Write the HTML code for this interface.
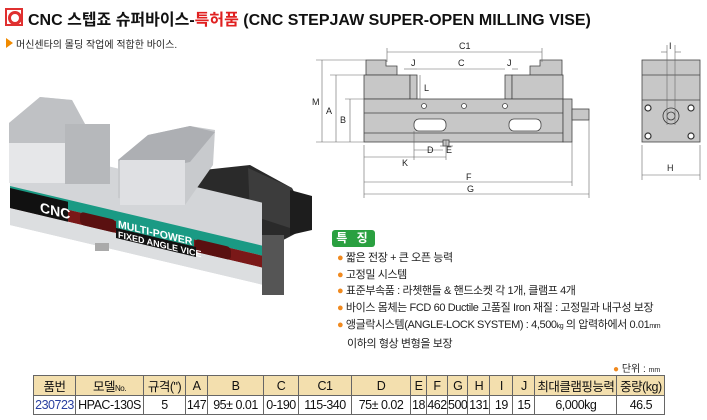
<!DOCTYPE html>
<html><head><meta charset="utf-8"><style>
body{margin:0;width:707px;height:420px;background:#fff;position:relative;overflow:hidden;font-family:"Liberation Sans","Noto Sans CJK KR",sans-serif;}
.a{position:absolute;white-space:nowrap}
table{position:absolute;left:33px;top:375px;border-collapse:collapse;font-family:"Liberation Sans","Noto Sans CJK KR",sans-serif;font-size:12.5px;table-layout:fixed}
td{border:1px solid #666;text-align:center;padding:0;height:18px;color:#111;overflow:hidden;white-space:nowrap;letter-spacing:-0.5px}
tr.h td{background:#f3dfae}
</style></head><body>
<div class="a" style="left:5px;top:8px;width:14px;height:14px;border:2px solid #e03030;"></div>
<div class="a" style="left:8px;top:11px;width:8px;height:8px;border:3px solid #e03030;border-radius:50%;"></div>
<div class="a" style="left:28px;top:6px;font-size:16px;font-weight:bold;color:#111">CNC 스텝죠 슈퍼바이스-<span style="color:#e02020">특허품</span> (CNC STEPJAW SUPER-OPEN MILLING VISE)</div>
<div class="a" style="left:6px;top:38px;width:0;height:0;border-top:5px solid transparent;border-bottom:5px solid transparent;border-left:7px solid #f08a00"></div>
<div class="a" style="left:16px;top:36px;font-size:10px;color:#222">머신센타의 몰딩 작업에 적합한 바이스.</div>

<svg class="a" style="left:0;top:0" width="707" height="420">
<!-- photo -->
<polygon points="185,172 250,165 292,188 312,225 268,248 185,218" fill="#2a2a2a"/>
<polygon points="248,168 292,188 290,228 250,215" fill="#3c3c3c"/>
<polygon points="290,190 312,196 312,230 290,235" fill="#1d1d1d"/>
<g transform="translate(10,0) skewY(13.3)">
<rect x="0" y="143" width="252" height="82" fill="#d3d5d8"/>
<rect x="0" y="186" width="252" height="10" fill="#1a9a84"/>
<rect x="0" y="196" width="252" height="12" fill="#7a1818"/>
<rect x="0" y="208" width="252" height="17" fill="#dcdee0"/>
<rect x="0" y="188" width="58" height="20" fill="#111"/>
<text x="30" y="205" font-size="14" font-weight="bold" fill="#fff" font-family="Liberation Sans">CNC</text>
<rect x="70" y="195" width="36" height="13" rx="4" fill="#5a1010"/>
<rect x="185" y="195" width="36" height="13" rx="4" fill="#5a1010"/>
<rect x="106" y="191" width="78" height="12" fill="#1a9a84"/>
<text x="108" y="202" font-size="10.5" font-weight="bold" fill="#fff" font-family="Liberation Sans">MULTI-POWER</text>
<rect x="106" y="203" width="80" height="10" fill="#111"/>
<text x="108" y="212" font-size="9" font-weight="bold" fill="#fff" font-family="Liberation Sans">FIXED ANGLE VICE</text>
</g>
<rect x="262" y="235" width="22" height="60" fill="#555"/>
<rect x="95" y="243" width="14" height="8" fill="#aaa"/>
<!-- left jaw -->
<polygon points="9,123 40,97 72,100 85,124 110,126 110,182 9,178" fill="#d5d7da"/>
<polygon points="9,123 40,97 72,100 85,124 65,146 9,143" fill="#bfc1c4"/>
<rect x="9" y="143" width="56" height="40" fill="#e6e7e9"/>
<rect x="65" y="124" width="45" height="60" fill="#b6b8bb"/>
<!-- movable jaw -->
<polygon points="118,160 148,135 190,126 215,130 213,165 185,205 118,198" fill="#c8cacd"/>
<polygon points="118,160 148,135 190,126 215,132 190,162 150,170" fill="#adafb3"/>
<rect x="120" y="160" width="65" height="45" fill="#dfe0e3"/>
<!-- drawing front view -->
<g fill="#c7c7c7" stroke="#444" stroke-width="0.8">
<polygon points="366,60 386,60 386,66 397,66 397,75 366,75"/>
<polygon points="530,66 540,66 540,60 562,60 562,75 530,75"/>
<rect x="364" y="75" width="46" height="24"/>
<rect x="410" y="75" width="7" height="24"/>
<rect x="505" y="75" width="7" height="24"/>
<rect x="512" y="75" width="51" height="24"/>
<rect x="364" y="99" width="199" height="43"/>
<rect x="563" y="99" width="9" height="43"/>
<rect x="572" y="109" width="17" height="11"/>
<rect x="443" y="140" width="6" height="6"/>
</g>
<g stroke="#444" stroke-width="0.8" fill="none">
<line x1="364" y1="113" x2="563" y2="113"/><line x1="364" y1="133" x2="563" y2="133"/>
</g>
<rect x="414" y="119" width="32" height="12" rx="5" fill="#fff" stroke="#444" stroke-width="0.8"/>
<rect x="509" y="119" width="32" height="12" rx="5" fill="#fff" stroke="#444" stroke-width="0.8"/>
<g fill="#fff" stroke="#444" stroke-width="0.8"><circle cx="424" cy="106" r="2.5"/><circle cx="464" cy="106" r="2.5"/><circle cx="505" cy="106" r="2.5"/></g>
<g stroke="#666" stroke-width="0.6" fill="none">
<line x1="387" y1="52" x2="542" y2="52"/><line x1="387" y1="48" x2="387" y2="62"/><line x1="542" y1="48" x2="542" y2="62"/>
<line x1="417" y1="69" x2="505" y2="69"/><line x1="410" y1="69" x2="417" y2="69"/>
<line x1="404" y1="69" x2="410" y2="69"/><line x1="512" y1="69" x2="518" y2="69"/>
<line x1="322" y1="60" x2="322" y2="142"/><line x1="316" y1="60" x2="366" y2="60"/>
<line x1="336" y1="75" x2="336" y2="142"/><line x1="330" y1="75" x2="364" y2="75"/>
<line x1="350" y1="99" x2="350" y2="142"/><line x1="345" y1="99" x2="364" y2="99"/>
<line x1="316" y1="142" x2="364" y2="142"/>
<line x1="420" y1="75" x2="420" y2="99"/>
<line x1="414" y1="131" x2="414" y2="160"/><line x1="446" y1="140" x2="446" y2="160"/>
<line x1="414" y1="150" x2="443" y2="150"/><line x1="440" y1="146" x2="453" y2="146"/>
<line x1="364" y1="145" x2="364" y2="198"/><line x1="364" y1="157" x2="446" y2="157"/>
<line x1="572" y1="142" x2="572" y2="186"/><line x1="364" y1="182" x2="572" y2="182"/>
<line x1="589" y1="120" x2="589" y2="198"/><line x1="364" y1="194" x2="589" y2="194"/>
</g>
<g font-family="Liberation Sans" font-size="9" fill="#222">
<text x="459" y="49">C1</text><text x="458" y="66">C</text>
<text x="411" y="66">J</text><text x="507" y="66">J</text>
<text x="312" y="105">M</text><text x="326" y="114">A</text><text x="340" y="123">B</text>
<text x="424" y="91">L</text><text x="427" y="153">D</text><text x="446" y="153">E</text>
<text x="402" y="166">K</text><text x="466" y="180">F</text><text x="467" y="192">G</text>
<text x="669" y="49">I</text><text x="667" y="171">H</text>
</g>
<!-- side view -->
<g fill="#c7c7c7" stroke="#444" stroke-width="0.8">
<rect x="642" y="60" width="58" height="82"/>
<line x1="642" y1="75" x2="700" y2="75"/><line x1="642" y1="100" x2="700" y2="100"/>
</g>
<g fill="#fff" stroke="#333" stroke-width="1.2">
<circle cx="648" cy="108" r="3"/><circle cx="691" cy="108" r="3"/><circle cx="648" cy="136" r="3"/><circle cx="691" cy="136" r="3"/>
<circle cx="671" cy="116" r="8" fill="none" stroke-width="0.8"/><circle cx="671" cy="116" r="4" fill="none" stroke-width="0.8"/>
</g>
<g stroke="#666" stroke-width="0.6">
<line x1="667" y1="45" x2="667" y2="125"/><line x1="675" y1="45" x2="675" y2="125"/>
<line x1="661" y1="52" x2="667" y2="52"/><line x1="675" y1="52" x2="681" y2="52"/>
<line x1="642" y1="145" x2="642" y2="180"/><line x1="700" y1="145" x2="700" y2="180"/>
<line x1="642" y1="175" x2="700" y2="175"/>
</g>
</svg>

<div class="a" style="left:332px;top:230px;width:43px;height:17px;background:#2aa040;border-radius:3px;color:#fff;font-size:12px;font-weight:bold;text-align:center;line-height:17px;letter-spacing:3px">특 징</div>
<div class="a" style="left:337px;top:250px;font-size:11px;line-height:16.7px;color:#222;letter-spacing:-0.4px">
<div><span style="color:#f08a20">●</span> 짧은 전장 + 큰 오픈 능력</div>
<div><span style="color:#f08a20">●</span> 고정밀 시스템</div>
<div><span style="color:#f08a20">●</span> 표준부속품 : 라쳇핸들 &amp; 핸드소켓 각 1개, 클램프 4개</div>
<div><span style="color:#f08a20">●</span> 바이스 몸체는 FCD 60 Ductile 고품질 Iron 재질 : 고정밀과 내구성 보장</div>
<div><span style="color:#f08a20">●</span> 앵글락시스템(ANGLE-LOCK SYSTEM) : 4,500<span style="font-size:7px">kg</span> 의 압력하에서 0.01<span style="font-size:7px">mm</span></div>
<div style="padding-left:10px">이하의 형상 변형을 보장</div>
</div>
<div class="a" style="left:613px;top:360px;font-size:10px;color:#222"><span style="color:#f08a20">●</span> 단위 : <span style="font-size:7px">mm</span></div>

<table>
<colgroup><col style="width:42px"><col style="width:68px"><col style="width:42px"><col style="width:22px"><col style="width:56px"><col style="width:35px"><col style="width:53px"><col style="width:59px"><col style="width:16px"><col style="width:21px"><col style="width:20px"><col style="width:22px"><col style="width:23px"><col style="width:22px"><col style="width:82px"><col style="width:48px"></colgroup>
<tr class="h"><td>품번</td><td>모델<span style="font-size:8px">No.</span></td><td>규격(")</td><td>A</td><td>B</td><td>C</td><td>C1</td><td>D</td><td>E</td><td>F</td><td>G</td><td>H</td><td>I</td><td>J</td><td>최대클램핑능력</td><td>중량(kg)</td></tr>
<tr><td style="color:#2a40a0">230723</td><td>HPAC-130S</td><td>5</td><td>147</td><td>95± 0.01</td><td>0-190</td><td>115-340</td><td>75± 0.02</td><td>18</td><td>462</td><td>500</td><td>131</td><td>19</td><td>15</td><td>6,000kg</td><td>46.5</td></tr>
</table>
</body></html>
